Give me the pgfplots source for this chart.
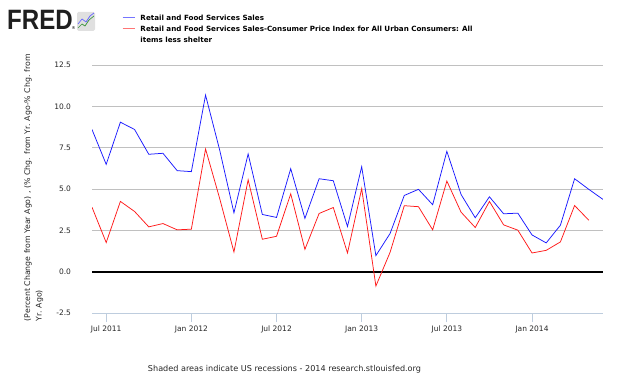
\documentclass[border=0pt]{standalone}
\usepackage{pgfplots}
\pgfplotsset{compat=1.18}
\usepackage{fontspec}
\setmainfont{DejaVu Sans}
\newfontfamily\logofont{Liberation Sans}
\definecolor{gridgray}{RGB}{192,192,192}
\definecolor{axisblue}{RGB}{190,205,222}
\definecolor{serblue}{RGB}{25,25,255}
\definecolor{serred}{RGB}{255,25,25}
\begin{document}
\begin{tikzpicture}
\useasboundingbox (0,0) rectangle (630pt,378pt);
% logo
\node[anchor=base west, inner sep=0pt, font=\logofont\bfseries\fontsize{28}{28}\selectfont, xscale=0.86, text=black!88] at (7pt,348pt) {FRED};
\node[inner sep=0pt, font=\fontsize{4}{4}\selectfont] at (73.5pt,350pt) {®};
\fill[black!12, rounded corners=1.5pt] (77pt,347pt) rectangle (95pt,366pt);
\draw[green!45!black!75, line width=0.7pt] (78pt,350pt) -- (82pt,354pt) -- (85pt,352pt) -- (89pt,358pt) -- (94pt,362pt);
\draw[blue!60, line width=0.7pt] (78pt,354pt) -- (82pt,359pt) -- (86pt,356pt) -- (90pt,362pt) -- (94pt,365pt);
\begin{axis}[
  at={(92pt,65pt)}, anchor=south west,
  scale only axis, width=511pt, height=248pt,
  xmin=0, xmax=36, ymin=-2.5, ymax=12.5,
  axis x line*=bottom, axis y line*=left,
  x axis line style={color=axisblue, line width=0.8pt},
  y axis line style={draw=none},
  xtick={1,7,13,19,25,31},
  xticklabels={Jul 2011,Jan 2012,Jul 2012,Jan 2013,Jul 2013,Jan 2014},
  ytick={-2.5,0,2.5,5,7.5,10,12.5},
  yticklabel style={xshift=-8.5pt, /pgf/number format/.cd, fixed, fixed zerofill, precision=1},
  /pgf/number format/assume math mode=true,
  ymajorgrids, grid style={gridgray, line width=0.6pt},
  tick align=outside, major tick length=9pt,
  xtick style={axisblue, line width=0.8pt},
  ytick style={draw=none},
  tick label style={font=\fontsize{7.5}{9}\selectfont, text=black!85},
  ylabel={(Percent Change from Year Ago) , (\% Chg. from Yr. Ago-\% Chg. from\\Yr. Ago)},
  ylabel style={at={(axis description cs:-0.1139,0.506)}, anchor=center, align=left, font=\fontsize{7.8}{11.5}\selectfont, text=black!85},
  legend style={at={(axis description cs:0.0587,1.2137)}, anchor=north west, draw=none, fill=none, inner sep=0pt, outer sep=0pt, row sep=0pt, column sep=5pt, nodes={inner sep=0pt, text height=8pt, text depth=3pt}, font=\bfseries\fontsize{7.15}{11}\selectfont},
  legend cell align=left,
  legend image code/.code={\draw[#1, line width=1.5pt, draw opacity=0.6] (0pt,0pt) -- (12pt,0pt);},
]
\addplot[black, line width=2.2pt, forget plot] coordinates {(0,0) (36,0)};
\addplot[serblue, line width=0.75pt, no marks] coordinates {
(0,8.6) (1,6.49) (2,9.04) (3,8.6) (4,7.1) (5,7.16) (6,6.11) (7,6.05) (8,10.68) (9,7.34)
(10,3.56) (11,7.12) (12,3.46) (13,3.28) (14,6.23) (15,3.22) (16,5.62) (17,5.5) (18,2.73) (19,6.35)
(20,0.97) (21,2.31) (22,4.61) (23,4.98) (24,4.05) (25,7.28) (26,4.67) (27,3.26) (28,4.53) (29,3.5)
(30,3.54) (31,2.22) (32,1.74) (33,2.81) (34,5.62) (35,4.98) (36,4.37)};
\addlegendentry{Retail and Food Services Sales}
\addplot[serred, line width=0.75pt, no marks] coordinates {
(0,3.9) (1,1.76) (2,4.25) (3,3.64) (4,2.71) (5,2.91) (6,2.53) (7,2.57) (8,7.42) (9,4.41)
(10,1.19) (11,5.56) (12,1.96) (13,2.14) (14,4.71) (15,1.35) (16,3.52) (17,3.88) (18,1.13) (19,5.02)
(20,-0.87) (21,1.17) (22,3.99) (23,3.93) (24,2.53) (25,5.48) (26,3.6) (27,2.67) (28,4.25) (29,2.83)
(30,2.51) (31,1.13) (32,1.29) (33,1.8) (34,4.0) (35,3.11)};
\addlegendentry{{\begin{tabular}[t]{@{}l@{}}Retail and Food Services Sales-Consumer Price Index for All Urban Consumers: All\\items less shelter\end{tabular}}}
\end{axis}
\node[anchor=base, inner sep=0pt, font=\fontsize{8.1}{9}\selectfont, text=black!85] at (284.5pt,6pt) {Shaded areas indicate US recessions - 2014 research.stlouisfed.org};
\end{tikzpicture}
\end{document}
